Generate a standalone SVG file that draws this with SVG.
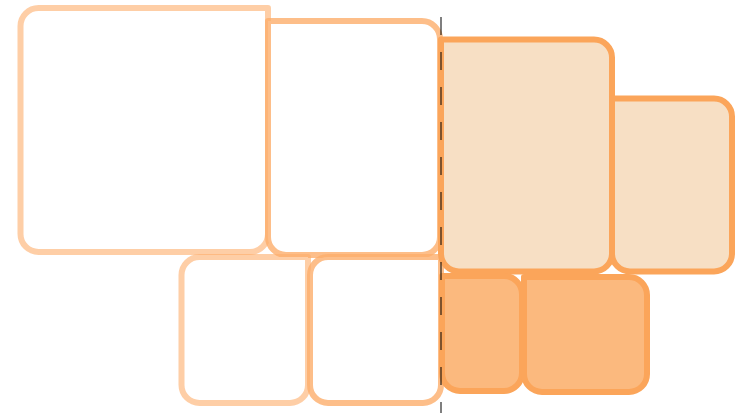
<svg xmlns="http://www.w3.org/2000/svg" width="735" height="413" viewBox="0 0 735 413">
<style>
.n{stroke-width:6;stroke-linejoin:round}
.l1{fill:#fff;stroke:#fdae6b;stroke-opacity:0.6}
.l2{fill:#fff;stroke:#fdae6b;stroke-opacity:0.8}
.l3{fill:#f7dfc4;stroke:#fba55a}
.l4{fill:#fbb97e;stroke:#fba55a}
.fold{stroke:#000;stroke-opacity:0.5;stroke-width:2;stroke-dasharray:18 17;stroke-dashoffset:18;fill:none}
</style>
<rect width="735" height="413" fill="#fff"/>
<g id="A"><path class="n l1" d="M38.5,8 H268 V234 A18,18 0 0 1 250,252 H38.5 A18,18 0 0 1 20.5,234 V26 A18,18 0 0 1 38.5,8 Z"/></g>
<g id="B"><path class="n l2" d="M268,21 H422 A18,18 0 0 1 440,39 V237 A18,18 0 0 1 422,255 H286 A18,18 0 0 1 268,237 Z"/></g>
<g id="E"><path class="n l1" d="M199.5,257 H308 V385 A18,18 0 0 1 290,403 H199.5 A18,18 0 0 1 181.5,385 V275 A18,18 0 0 1 199.5,257 Z"/></g>
<g id="F"><path class="n l2" d="M328,257 H441 V385 A18,18 0 0 1 423,403 H328 A18,18 0 0 1 310,385 V275 A18,18 0 0 1 328,257 Z"/></g>
<g id="C"><path class="n l3" d="M441,39.5 H594 A18,18 0 0 1 612,57.5 V253.5 A18,18 0 0 1 594,271.5 H459 A18,18 0 0 1 441,253.5 Z"/></g>
<g id="D"><path class="n l3" d="M612,98.5 H714 A18,18 0 0 1 732,116.5 V253.5 A18,18 0 0 1 714,271.5 H630 A18,18 0 0 1 612,253.5 Z"/></g>
<g id="G"><path class="n l4" d="M442,276 H504 A18,18 0 0 1 522,294 V373 A18,18 0 0 1 504,391 H460 A18,18 0 0 1 442,373 Z"/></g>
<g id="H"><path class="n l4" d="M524,277 H629 A18,18 0 0 1 647,295 V374 A18,18 0 0 1 629,392 H542 A18,18 0 0 1 524,374 Z"/></g>
<g id="connectors"><line class="fold" x1="441" y1="0" x2="441" y2="413"/></g>
</svg>
